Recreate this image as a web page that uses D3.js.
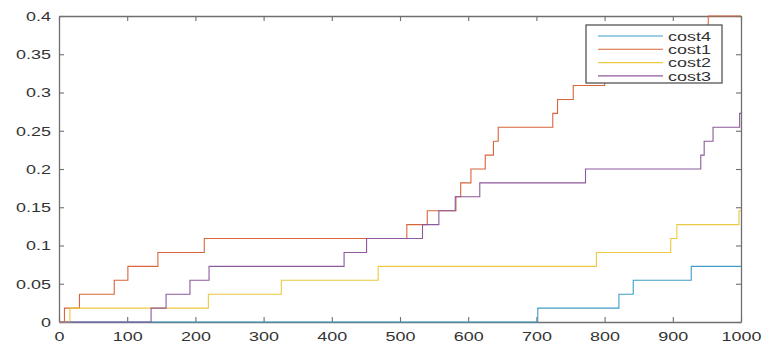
<!DOCTYPE html>
<html>
<head>
<meta charset="utf-8">
<script src="https://cdn.jsdelivr.net/npm/d3@7"></script>
<style>
  body { margin: 0; background: #fff; }
  svg { display: block; }
</style>
</head>
<body>
<div class="lineChart"></div>
<script>
// step size of every series is 1/55
const STEP = 1 / 55;

const seriesNames = ['cost4', 'cost1', 'cost2', 'cost3'];

// x where each series steps up, and the step count reached there
const cost4X = [0, 702, 821, 842, 927, 1000];
const cost4K = [0, 1, 2, 3, 4, 4];

const cost1X = [0, 8, 30, 81, 101, 145, 213, 510, 540, 582, 589, 604, 625, 637, 644, 724, 731, 754, 800, 830, 870, 910, 952, 1000];
const cost1K = [0, 1, 2, 3, 4, 5, 6, 7, 8, 9, 10, 11, 12, 13, 14, 15, 16, 17, 18, 19, 20, 21, 22, 22];

const cost2X = [0, 16, 219, 326, 468, 788, 897, 906, 997, 1000];
const cost2K = [0, 1, 2, 3, 4, 5, 6, 7, 8, 8];

const cost3X = [0, 135, 157, 192, 220, 418, 451, 533, 557, 581, 617, 772, 941, 946, 959, 998, 1000];
const cost3K = [0, 1, 2, 3, 4, 5, 6, 7, 8, 9, 10, 11, 12, 13, 14, 15, 15];

const xTicks = [0, 100, 200, 300, 400, 500, 600, 700, 800, 900, 1000];
const yTicks = [0, 0.05, 0.1, 0.15, 0.2, 0.25, 0.3, 0.35, 0.4];

const colors = ['#3f9dc8', '#d9653b', '#ebc940', '#8d5a9d'];

const W = 764, H = 344;
const pxL = 59, pxR = 741, pxT = 16, pxB = 322;
const stretch = 1.33; // text in the picture is wider than tall

const svg = d3.select('.lineChart').append('svg')
  .attr('width', W).attr('height', H);

const scX = d3.scaleLinear().domain([0, 1000]).range([pxL, pxR]);
const scY = d3.scaleLinear().domain([0, 0.4]).range([pxB, pxT]);

const series = [
  { name: seriesNames[0], xs: cost4X, ks: cost4K },
  { name: seriesNames[1], xs: cost1X, ks: cost1K },
  { name: seriesNames[2], xs: cost2X, ks: cost2K },
  { name: seriesNames[3], xs: cost3X, ks: cost3K }
];

function styleAxis(g) {
  g.selectAll('.domain').attr('stroke', '#6f6f6f').attr('stroke-width', 1.3);
  g.selectAll('.tick line').attr('stroke', '#6f6f6f').attr('stroke-width', 1.1);
  g.selectAll('text')
    .attr('fill', '#333')
    .style('font-family', '"Liberation Sans", Arial, sans-serif')
    .style('font-size', '13.5px')
    .attr('transform', function () {
      const x = +this.getAttribute('x') || 0;
      this.setAttribute('x', 0);
      return 'translate(' + x + ',0) scale(' + stretch + ',1)';
    });
}

// axes box first, lines are drawn over it (matlab layer bottom)
svg.append('g')
  .attr('transform', 'translate(0,' + pxB + ')')
  .call(d3.axisBottom(scX).tickValues(xTicks).tickFormat(d3.format('d')).tickSize(-5).tickSizeOuter(0).tickPadding(9))
  .call(styleAxis);

svg.append('g')
  .attr('transform', 'translate(' + pxL + ',0)')
  .call(d3.axisLeft(scY).tickValues(yTicks).tickFormat(d3.format('~g')).tickSize(-5).tickSizeOuter(0).tickPadding(8))
  .call(styleAxis);

// top + right, ticks only
svg.append('g')
  .attr('transform', 'translate(0,' + pxT + ')')
  .call(d3.axisTop(scX).tickValues(xTicks).tickFormat('').tickSize(-5).tickSizeOuter(0))
  .call(styleAxis);

svg.append('g')
  .attr('transform', 'translate(' + pxR + ',0)')
  .call(d3.axisRight(scY).tickValues(yTicks).tickFormat('').tickSize(-5).tickSizeOuter(0))
  .call(styleAxis);

const lnMkr = d3.line().curve(d3.curveStepAfter)
  .x(d => scX(d[0]))
  .y(d => scY(d[1]));

const gLines = svg.append('g');
series.forEach((s, i) => {
  const pts = s.xs.map((x, j) => [x, s.ks[j] * STEP]);
  gLines.append('path')
    .attr('fill', 'none')
    .attr('stroke', colors[i])
    .attr('stroke-width', 1.1)
    .attr('d', lnMkr(pts));
});

// legend
const lg = svg.append('g');
lg.append('rect')
  .attr('x', 586).attr('y', 25).attr('width', 136).attr('height', 58)
  .attr('fill', '#fff').attr('stroke', '#555').attr('stroke-width', 1.3);

series.forEach((s, i) => {
  const y = 36 + i * 13.3;
  lg.append('line')
    .attr('x1', 598).attr('x2', 663).attr('y1', y).attr('y2', y)
    .attr('stroke', colors[i]).attr('stroke-width', 1.1);
  lg.append('text')
    .attr('transform', 'translate(668,' + y + ') scale(' + stretch + ',1)')
    .attr('dy', '0.36em')
    .attr('fill', '#333')
    .style('font-family', '"Liberation Sans", Arial, sans-serif')
    .style('font-size', '13.5px')
    .text(s.name);
});
</script>
</body>
</html>
